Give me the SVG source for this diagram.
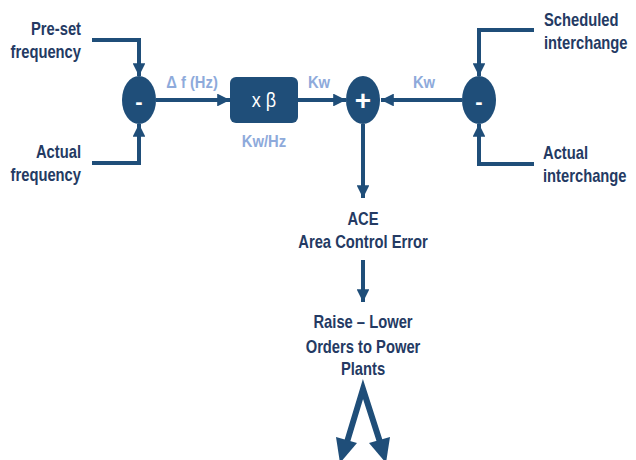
<svg xmlns="http://www.w3.org/2000/svg" width="636" height="460" viewBox="0 0 636 460">
<style>
.lbl{font-family:"Liberation Sans",Arial,sans-serif;font-weight:bold;font-size:18px;fill:#243a63}
.unit{font-family:"Liberation Sans",Arial,sans-serif;font-weight:bold;font-size:17px;fill:#8eaadb}
.sym{font-family:"Liberation Sans",Arial,sans-serif;font-weight:bold;fill:#ffffff;text-anchor:middle}
.node{fill:#1f4e79}
.ln{stroke:#1f4e79;stroke-width:4;fill:none}
.thick{stroke:#1f4e79;stroke-width:6;fill:none}
</style>
<defs>
<marker id="ah" viewBox="0 0 10 10" refX="10" refY="5" markerWidth="3.2" markerHeight="3.2" orient="auto" markerUnits="strokeWidth">
<path d="M0,0 L10,5 L0,10 z" fill="#1f4e79"/>
</marker>
</defs>
<rect width="636" height="460" fill="#ffffff"/>

<g id="connectors">
<polyline class="ln" points="92,40 139,40 139,76" marker-end="url(#ah)"/>
<polyline class="ln" points="92,163 139,163 139,124" marker-end="url(#ah)"/>
<line class="ln" x1="156" y1="100" x2="230" y2="100" marker-end="url(#ah)"/>
<line class="ln" x1="298" y1="100" x2="346" y2="100" marker-end="url(#ah)"/>
<line class="ln" x1="462" y1="100" x2="381" y2="100" marker-end="url(#ah)"/>
<polyline class="ln" points="534,30 479,30 479,76" marker-end="url(#ah)"/>
<polyline class="ln" points="534,164 479,164 479,124" marker-end="url(#ah)"/>
<line class="ln" x1="363" y1="124" x2="363" y2="198" marker-end="url(#ah)"/>
<line class="ln" x1="363" y1="260" x2="363" y2="302" marker-end="url(#ah)"/>
<polyline class="thick" points="347,442 363,389 380,442" stroke-linejoin="miter"/>
<path d="M336,437 L357,443 L340,463 z" fill="#1f4e79"/>
<path d="M369,443 L390,437 L386,463 z" fill="#1f4e79"/>
<g transform="translate(192,88) scale(0.87,1)"><text class="unit" text-anchor="middle">Δ f (Hz)</text></g>
<g transform="translate(319,88) scale(0.87,1)"><text class="unit" text-anchor="middle">Kw</text></g>
<g transform="translate(424,88) scale(0.87,1)"><text class="unit" text-anchor="middle">Kw</text></g>
</g>

<g id="preset">
<g transform="translate(81,35) scale(0.82,1)"><text class="lbl" text-anchor="end">Pre-set</text></g>
<g transform="translate(81,58) scale(0.82,1)"><text class="lbl" text-anchor="end">frequency</text></g>
</g>
<g id="actual-frequency">
<g transform="translate(81,158) scale(0.82,1)"><text class="lbl" text-anchor="end">Actual</text></g>
<g transform="translate(81,181) scale(0.82,1)"><text class="lbl" text-anchor="end">frequency</text></g>
</g>
<g id="minus-left">
<ellipse class="node" cx="139" cy="100" rx="17" ry="24"/>
<text class="sym" x="139" y="109" font-size="22">-</text>
</g>
<g id="beta">
<rect class="node" x="230" y="77" width="68" height="46" rx="6"/>
<g transform="translate(264,107) scale(0.9,1)"><text text-anchor="middle" font-family="Liberation Sans,Arial,sans-serif" font-size="20" fill="#ffffff">x β</text></g>
<g transform="translate(264,147) scale(0.87,1)"><text class="unit" text-anchor="middle">Kw/Hz</text></g>
</g>
<g id="plus">
<ellipse class="node" cx="363" cy="100" rx="17" ry="24"/>
<text class="sym" x="363" y="110" font-size="28">+</text>
</g>
<g id="minus-right">
<ellipse class="node" cx="479" cy="100" rx="17" ry="24"/>
<text class="sym" x="479" y="109" font-size="22">-</text>
</g>
<g id="scheduled">
<g transform="translate(544,26) scale(0.82,1)"><text class="lbl">Scheduled</text></g>
<g transform="translate(544,49) scale(0.82,1)"><text class="lbl">interchange</text></g>
</g>
<g id="actual-interchange">
<g transform="translate(543,159) scale(0.82,1)"><text class="lbl">Actual</text></g>
<g transform="translate(543,182) scale(0.82,1)"><text class="lbl">interchange</text></g>
</g>
<g id="ace">
<g transform="translate(363,225) scale(0.82,1)"><text class="lbl" text-anchor="middle">ACE</text></g>
<g transform="translate(363,248) scale(0.82,1)"><text class="lbl" text-anchor="middle">Area Control Error</text></g>
</g>
<g id="orders">
<g transform="translate(363,328) scale(0.82,1)"><text class="lbl" text-anchor="middle">Raise – Lower</text></g>
<g transform="translate(363,353) scale(0.82,1)"><text class="lbl" text-anchor="middle">Orders to Power</text></g>
<g transform="translate(363,375) scale(0.82,1)"><text class="lbl" text-anchor="middle">Plants</text></g>
</g>
</svg>
